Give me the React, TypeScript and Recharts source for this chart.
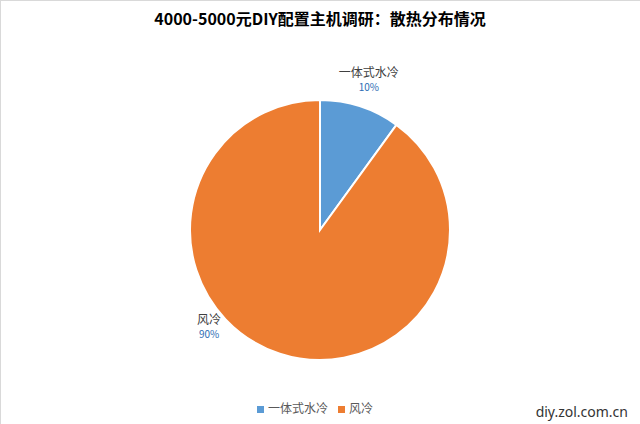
import React from "react";
import { PieChart, Pie, Cell, Legend } from "recharts";

const categories = ["一体式水冷", "风冷"];
const values = [10, 90];
const colors = ["#5B9BD5", "#ED7D31"];
const title = "4000-5000元DIY配置主机调研：散热分布情况";
const watermark = "diy.zol.com.cn";

const data = categories.map((name, i) => ({ name, value: values[i] }));

const FONT = "'Microsoft YaHei', 'Noto Sans CJK SC', 'Noto Sans', sans-serif";

const renderLabel = (props: any) => {
  const { cx, cy, midAngle, outerRadius, index, percent, name } = props;
  const RAD = Math.PI / 180;
  let x: number;
  let y: number;
  if (index === 0) {
    const r = outerRadius + 28;
    x = cx + r * Math.cos(-midAngle * RAD);
    y = cy + r * Math.sin(-midAngle * RAD);
  } else {
    const ang = -139;
    const r = outerRadius + 17;
    x = cx + r * Math.cos(ang * RAD);
    y = cy - r * Math.sin(ang * RAD);
  }
  return (
    <g>
      <text x={x} y={y - 8} textAnchor="middle" dominantBaseline="central" fill="#404040" fontSize={12} fontFamily={FONT}>
        {name}
      </text>
      <text x={x} y={y + 7} textAnchor="middle" dominantBaseline="central" fill="#2E6DB4" fontSize={10} fontFamily={FONT}>
        {`${Math.round(percent * 100)}%`}
      </text>
    </g>
  );
};

export default function App() {
  return (
    <div style={{ position: "absolute", left: 0, top: 0, width: 640, height: 424, background: "#fff", overflow: "hidden" }}>
      <div style={{ position: "absolute", left: 0, top: 0, width: 640, height: 1, background: "#D9D9D9" }} />
      <div style={{ position: "absolute", left: 0, top: 0, width: 1, height: 424, background: "#D9D9D9" }} />
      <div style={{ position: "absolute", left: 0, top: 6, width: 640, textAlign: "center", fontFamily: FONT, fontWeight: "bold", fontSize: 16, color: "#000" }}>
        {title}
      </div>
      <PieChart width={640} height={424} margin={{ top: 0, right: 0, bottom: 0, left: 0 }} style={{ position: "absolute", left: 0, top: 0 }}>
        <Pie
          data={data}
          dataKey="value"
          nameKey="name"
          cx={320}
          cy={230}
          outerRadius={130}
          startAngle={90}
          endAngle={-270}
          stroke="#FFFFFF"
          strokeWidth={2}
          isAnimationActive={false}
          label={renderLabel}
          labelLine={false}
        >
          {data.map((d, i) => (
            <Cell key={d.name} fill={colors[i]} />
          ))}
        </Pie>
        <Legend
          verticalAlign="bottom"
          align="center"
          iconType="square"
          iconSize={7}
          wrapperStyle={{ bottom: 8, fontFamily: FONT, fontSize: 12 }}
          formatter={(v: any) => <span style={{ color: "#595959" }}>{v}</span>}
        />
      </PieChart>
      <div style={{ position: "absolute", right: 12, top: 402, fontFamily: "'Microsoft YaHei', 'Noto Sans', sans-serif", fontSize: 14, color: "#333" }}>
        {watermark}
      </div>
    </div>
  );
}
